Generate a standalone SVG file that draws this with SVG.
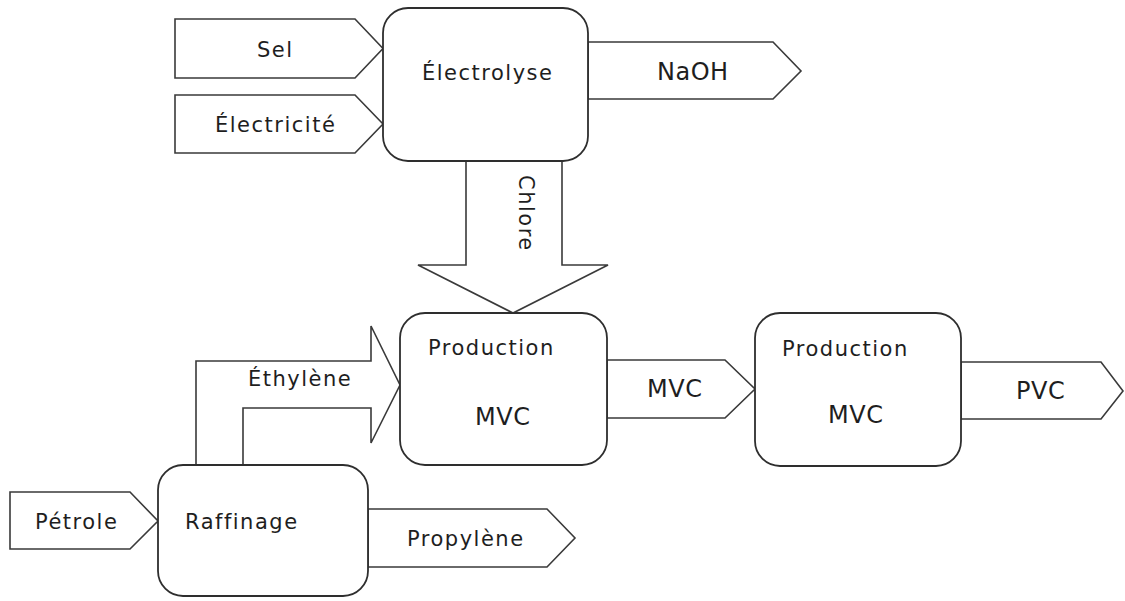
<svg xmlns="http://www.w3.org/2000/svg" width="1125" height="601" viewBox="0 0 1125 601">
<style>
.shape{fill:#ffffff;stroke:#3a3a3a;stroke-width:1.6;stroke-linejoin:miter}
.box{fill:#ffffff;stroke:#2e2e2e;stroke-width:1.8}
.t{font-family:"DejaVu Sans",Verdana,sans-serif;font-size:21px;letter-spacing:1.5px;fill:#1e1e1e}
.v{font-family:"DejaVu Sans",Verdana,sans-serif;font-size:24px;letter-spacing:0.5px;fill:#1e1e1e}
</style>
<rect width="1125" height="601" fill="#ffffff"/>
<g id="connectors">
  <g id="arrow-sel">
    <polygon class="shape" points="175,19 355,19 383,48.5 355,78 175,78"/>
    <text class="t" x="257" y="57">Sel</text>
  </g>
  <g id="arrow-electricite">
    <polygon class="shape" points="175,95 355,95 383,124 355,153 175,153"/>
    <text class="t" x="215" y="132">Électricité</text>
  </g>
  <g id="arrow-naoh">
    <polygon class="shape" points="588,42 773,42 801,71 773,99 588,99"/>
    <text class="v" x="657" y="80">NaOH</text>
  </g>
  <g id="arrow-chlore">
    <polygon class="shape" points="466,161 562,161 562,265 608,265 513,313 418,265 466,265"/>
    <text class="t" transform="translate(519,175) rotate(90)" x="0" y="0">Chlore</text>
  </g>
  <g id="arrow-ethylene">
    <polygon class="shape" points="196,465 196,361 371,361 371,326 400,385 371,443 371,408 243,408 243,465"/>
    <text class="t" x="248" y="386">Éthylène</text>
  </g>
  <g id="arrow-mvc">
    <polygon class="shape" points="607,360 725,360 755,389 725,418 607,418"/>
    <text class="v" x="647" y="397">MVC</text>
  </g>
  <g id="arrow-pvc">
    <polygon class="shape" points="961,362 1101,362 1123,391 1101,419 961,419"/>
    <text class="v" x="1016" y="399">PVC</text>
  </g>
  <g id="arrow-petrole">
    <polygon class="shape" points="10,492 130,492 158,521 130,549 10,549"/>
    <text class="t" x="35" y="529">Pétrole</text>
  </g>
  <g id="arrow-propylene">
    <polygon class="shape" points="368,509 547,509 575,538 547,567 368,567"/>
    <text class="t" x="407" y="546">Propylène</text>
  </g>
</g>
<g id="node-electrolyse">
  <rect class="box" x="383" y="8" width="205" height="153" rx="25" ry="25"/>
  <text class="t" x="422" y="80">Électrolyse</text>
</g>
<g id="node-production-mvc-1">
  <rect class="box" x="400" y="313" width="207" height="152" rx="25" ry="25"/>
  <text class="t" x="428" y="355">Production</text>
  <text class="v" x="475" y="425">MVC</text>
</g>
<g id="node-production-mvc-2">
  <rect class="box" x="755" y="313" width="206" height="153" rx="25" ry="25"/>
  <text class="t" x="782" y="356">Production</text>
  <text class="v" x="828" y="423">MVC</text>
</g>
<g id="node-raffinage">
  <rect class="box" x="158" y="465" width="210" height="131" rx="25" ry="25"/>
  <text class="t" x="185" y="529">Raffinage</text>
</g>
</svg>
